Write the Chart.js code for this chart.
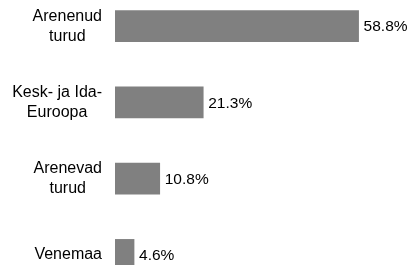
<!DOCTYPE html>
<html>
<head>
<meta charset="utf-8">
<script src="https://cdn.jsdelivr.net/npm/chart.js@4"></script>
<style>
    html, body { margin: 0; padding: 0; background: #fff; overflow: hidden; }
    #wrap { position: absolute; left: 0; top: -12px; width: 420px; height: 305px; }
</style>
</head>
<body>
<div id="wrap"><canvas id="barChart"></canvas></div>
<script>
const categories = [
    ["Arenenud", "turud"],
    ["Kesk- ja Ida-", "Euroopa"],
    ["Arenevad", "turud"],
    ["Venemaa"]
];
const shares = [58.8, 21.3, 10.8, 4.6];
const value_labels = ["58.8%", "21.3%", "10.8%", "4.6%"];

const FONT = "'Liberation Sans', Arial, sans-serif";

// category names: each block right-aligned, its lines centered
const category_labels = {
    id: "categoryLabels",
    afterDraw(chart) {
        const ctx = chart.ctx;
        const y_scale = chart.scales.y;
        ctx.save();
        ctx.font = "16px " + FONT;
        ctx.fillStyle = "#000";
        ctx.textAlign = "center";
        ctx.textBaseline = "middle";
        categories.forEach((lines, i) => {
            const cy = y_scale.getPixelForValue(i);
            const widest = Math.max(...lines.map(l => ctx.measureText(l).width));
            const cx = chart.chartArea.left - 13 - widest / 2;
            const lineHeight = 20;
            const y0 = cy - (lines.length - 1) * lineHeight / 2;
            lines.forEach((line, j) => ctx.fillText(line, cx, y0 + j * lineHeight));
        });
        ctx.restore();
    }
};

const value_tags = {
    id: "valueTags",
    afterDatasetsDraw(chart) {
        const ctx = chart.ctx;
        ctx.save();
        ctx.font = "15.5px " + FONT;
        ctx.fillStyle = "#000";
        ctx.textAlign = "left";
        ctx.textBaseline = "middle";
        chart.getDatasetMeta(0).data.forEach((bar, i) => {
            ctx.fillText(value_labels[i], bar.x + 5, bar.y + 1);
        });
        ctx.restore();
    }
};

new Chart(document.getElementById("barChart"), {
    type: "bar",
    data: {
        labels: categories,
        datasets: [{
            data: shares,
            backgroundColor: "#808080",
            borderWidth: 0,
            barThickness: 31
        }]
    },
    options: {
        indexAxis: "y",
        responsive: true,
        maintainAspectRatio: false,
        animation: false,
        layout: { padding: { left: 115, right: 15, top: 0, bottom: 0 } },
        scales: {
            x: { display: false, min: 0, max: 70 },
            y: { display: false }
        },
        plugins: {
            legend: { display: false },
            tooltip: { enabled: false }
        }
    },
    plugins: [category_labels, value_tags]
});
</script>
</body>
</html>
